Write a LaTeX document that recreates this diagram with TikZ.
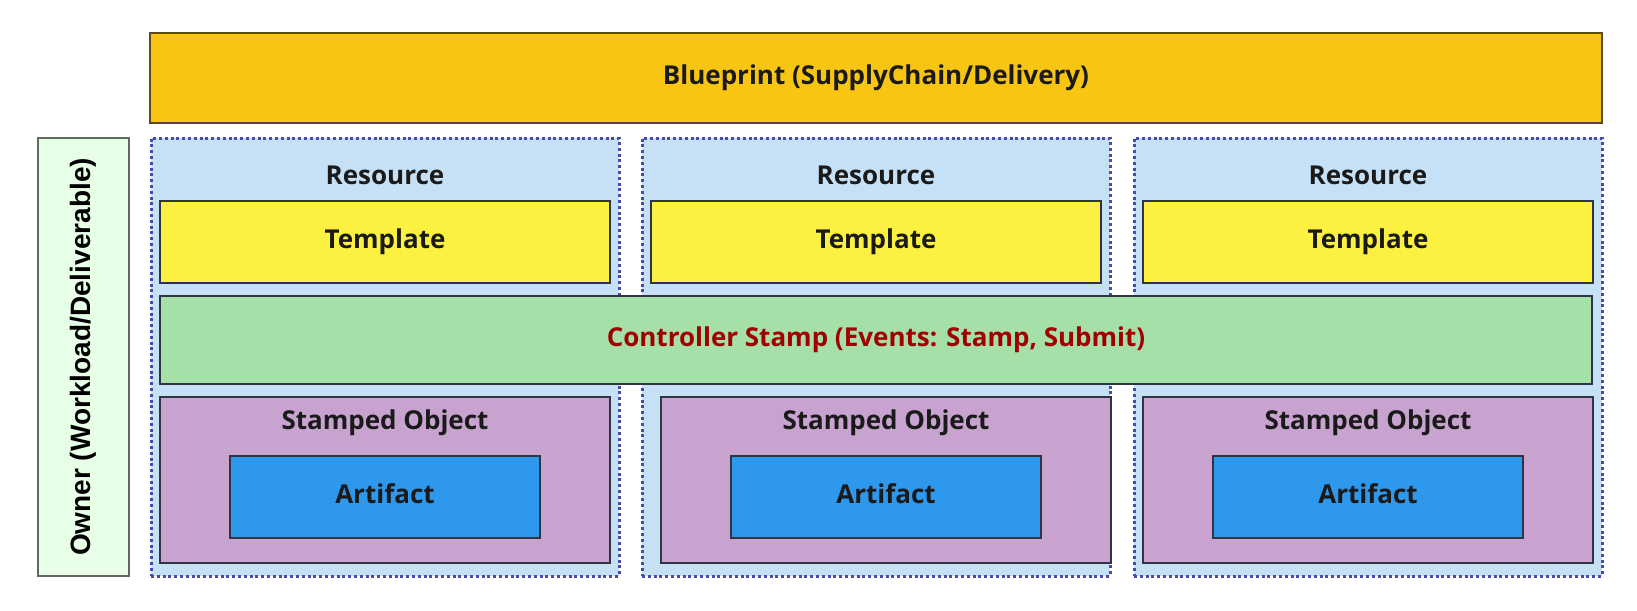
\documentclass[tikz,border=0pt]{standalone}
\usepackage{fontspec}
\setmainfont{Open Sans}
\newfontfamily\ownerfont{Liberation Sans}
\definecolor{bpfill}{HTML}{F8C513}
\definecolor{bpdraw}{HTML}{5C4A1E}
\definecolor{colfill}{HTML}{C6E1F6}
\definecolor{coldraw}{HTML}{4A4AA8}
\definecolor{tplfill}{HTML}{FCF140}
\definecolor{ctlfill}{HTML}{A6E0A9}
\definecolor{ctltext}{HTML}{A00000}
\definecolor{stfill}{HTML}{C9A3CF}
\definecolor{artfill}{HTML}{2E98EC}
\definecolor{ownfill}{HTML}{E6FFE6}
\definecolor{owndraw}{HTML}{5E6B5E}
\definecolor{boxdraw}{HTML}{2E3540}
\definecolor{txt}{HTML}{1A1A1A}
\tikzset{
  box/.style={rectangle, inner sep=0pt, outer sep=0pt, line width=1.5pt, draw=boxdraw},
  lbl/.style={font=\bfseries\fontsize{26}{30}\selectfont, text=txt, inner sep=0pt},
  bpbox/.style={box, fill=bpfill, draw=bpdraw},
  colbox/.style={rectangle, inner sep=0pt, outer sep=0pt, fill=colfill, draw=coldraw, line width=3pt, dash pattern=on 3pt off 2.8pt},
  tplbox/.style={box, fill=tplfill},
  ctlbox/.style={box, fill=ctlfill},
  stbox/.style={box, fill=stfill},
  artbox/.style={box, fill=artfill},
  ownbox/.style={box, fill=ownfill, draw=owndraw}
}
\begin{document}
\begin{tikzpicture}[x=1pt,y=-1pt]
\useasboundingbox (0,0) rectangle (1637,610);
\fill[white] (0,0) rectangle (1637,610);
% blueprint
\node[bpbox, minimum width=1452pt, minimum height=90pt] (bp) at (876,78) {};
\node[lbl] (bpt) at (bp.center) {Blueprint (SupplyChain/Delivery)};
% owner
\node[ownbox, minimum width=91pt, minimum height=438pt] (own) at (83.5,357) {};
\node[font=\ownerfont\bfseries\fontsize{28}{32}\selectfont, rotate=90, inner sep=0pt] (ownt) at (own.center) {Owner (Workload/Deliverable)};
% columns (column centre / stamped-object centre)
\foreach \i/\cx/\sx in {1/385/385,2/876/886,3/1368/1368}{
  \node[colbox, minimum width=468pt, minimum height=438pt] (col\i) at (\cx,357) {};
  \node[lbl] (res\i) at (\cx,175) {Resource};
  \node[tplbox, minimum width=450pt, minimum height=82pt] (tpl\i) at (\cx,242) {};
  \node[lbl] (tplt\i) at (tpl\i.center) {Template};
  \node[stbox, minimum width=450pt, minimum height=166pt] (st\i) at (\sx,480) {};
  \node[lbl] (stt\i) at (\sx,423) {Stamped Object};
  \node[artbox, minimum width=310pt, minimum height=82pt] (art\i) at (\sx,497) {};
  \node[lbl] (artt\i) at (\sx,494) {Artifact};
}
% controller
\node[ctlbox, minimum width=1432pt, minimum height=88pt] (ctl) at (876,340) {};
\node[lbl, text=ctltext] (ctlt) at (ctl.center) {Controller Stamp (Events: Stamp, Submit)};
\end{tikzpicture}
\end{document}
